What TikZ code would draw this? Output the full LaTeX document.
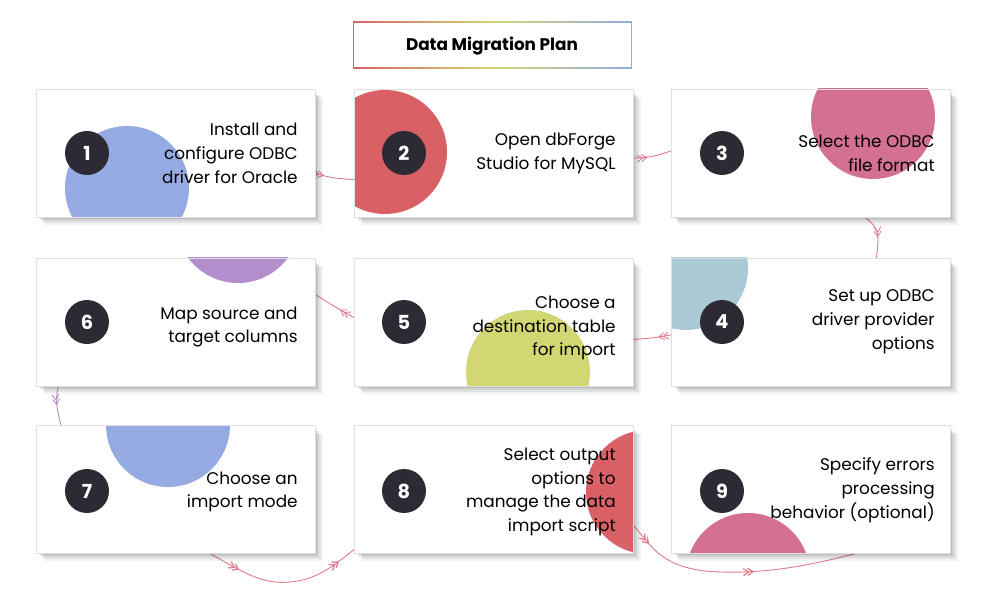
\documentclass[tikz,border=0pt]{standalone}
\usepackage{fontspec}
\setmainfont{Poppins}
\usetikzlibrary{arrows.meta,decorations.markings}
\definecolor{cblue}{HTML}{96ABE3}
\definecolor{cred}{HTML}{D96166}
\definecolor{cpink}{HTML}{D57095}
\definecolor{cteal}{HTML}{A9CAD4}
\definecolor{colive}{HTML}{D2D773}
\definecolor{cpurp}{HTML}{B48ECC}
\definecolor{cdark}{HTML}{2D2A33}
\definecolor{lnk}{HTML}{E07A8C}
\tikzset{x=0.02cm,y=-0.02cm,
 link/.style={draw=lnk,line width=0.5pt},
 midarr/.style={postaction={decorate},decoration={markings,mark=at position #1 with {\arrow{Straight Barb[length=3pt,width=4pt]}\arrow[xshift=-2.5pt]{Straight Barb[length=3pt,width=4pt]}}}},
 numc/.style={circle,fill=cdark,minimum size=0.88cm,inner sep=0pt,text=white,font=\bfseries\fontsize{11}{11}\selectfont},
 lbl/.style={anchor=east,align=right,font=\fontsize{9.6}{13.6}\selectfont,text=black,inner sep=0pt}}
\newcommand{\stepcard}[6]{% x y circcolor cx cy name
 \foreach \k/\o in {1/0.10,2/0.08,3/0.06,4/0.05}{
  \fill[black,opacity=\o] (#1+2+\k*1.5,#2+3+\k*1.5) rectangle (#1+279+\k*2,#2+128+\k*2);}
 \fill[white] (#1,#2) rectangle (#1+279,#2+128);
 \begin{scope}
 \clip (#1,#2) rectangle (#1+279,#2+128);
 \fill[#3] (#4,#5) circle[radius=62];
 \end{scope}
 \draw[black!12,line width=0.5pt] (#1,#2) rectangle (#1+279,#2+128);
 \coordinate (#6) at (#1+139,#2+64);
}
\begin{document}
\begin{tikzpicture}
\fill[white] (0,0) rectangle (1000,604);
\useasboundingbox (0,0) rectangle (1000,604);
% connectors
\draw[link,midarr=0.35] (305,170) .. controls (330,178) .. (360,180);
\draw[link,midarr=0.4] (625,158) .. controls (650,158) .. (680,148);
\draw[link,midarr=0.6] (855,210) .. controls (880,228) .. (876,262);
\draw[link,midarr=0.4] (680,333) .. controls (655,338) .. (625,340);
\draw[link,midarr=0.4] (362,322) .. controls (340,310) .. (308,290);
\draw[draw=cpurp,line width=0.5pt,midarr=0.5] (60,380) .. controls (55,400) .. (62,430);
\draw[link,midarr=0.25,midarr=0.85] (200,548) .. controls (240,570) and (260,585) .. (290,582) .. controls (320,580) and (340,560) .. (360,545);
\draw[link,midarr=0.12,midarr=0.55] (628,520) .. controls (650,540) and (655,570) .. (720,572) .. controls (780,574) and (830,560) .. (870,550);
% cards
\stepcard{36}{89}{cblue}{127}{188}{s1}
\stepcard{354}{89}{cred}{385}{152}{s2}
\stepcard{671}{89}{cpink}{873}{117}{s3}
\stepcard{36}{258}{cpurp}{238}{221}{s6}
\stepcard{354}{258}{colive}{528}{372}{s5}
\stepcard{671}{258}{cteal}{686}{268}{s4}
\stepcard{36}{425}{cblue}{168}{425}{s7}
\stepcard{354}{425}{cred}{648}{492}{s8}
\stepcard{671}{425}{cpink}{748}{575}{s9}
% numbers and labels
\node[numc] (n1) at (87,153) {1}; \node[lbl] (t1) at (298,153) {Install and\\configure ODBC\\driver for Oracle};
\node[numc] (n2) at (404,153) {2}; \node[lbl] (t2) at (616,153) {Open dbForge\\Studio for MySQL};
\node[numc] (n3) at (722,153) {3}; \node[lbl] (t3) at (935,153) {Select the ODBC\\file format};
\node[numc] (n6) at (87,322) {6}; \node[lbl] (t6) at (298,327) {Map source and\\target columns};
\node[numc] (n5) at (404,322) {5}; \node[lbl] (t5) at (616,328) {Choose a\\destination table\\for import};
\node[numc] (n4) at (722,322) {4}; \node[lbl] (t4) at (935,322) {Set up ODBC\\driver provider\\options};
\node[numc] (n7) at (87,491) {7}; \node[lbl] (t7) at (298,492) {Choose an\\import mode};
\node[numc] (n8) at (404,491) {8}; \node[lbl] (t8) at (616,492) {Select output\\options to\\manage the data\\import script};
\node[numc] (n9) at (722,491) {9}; \node[lbl] (t9) at (935,490) {Specify errors\\processing\\behavior (optional)};
% title
\fill[white] (353,22) rectangle (632,69);
\shade[left color=cred,right color=cblue,middle color=colive] (353,22) rectangle (632,23);
\shade[left color=cred,right color=cblue,middle color=colive] (353,68) rectangle (632,69);
\fill[cred] (353,22) rectangle (354,69);
\fill[cblue] (631,22) rectangle (632,69);
\node[font=\bfseries\fontsize{9.6}{12}\selectfont] (title) at (492,46) {Data Migration Plan};
\end{tikzpicture}
\end{document}
